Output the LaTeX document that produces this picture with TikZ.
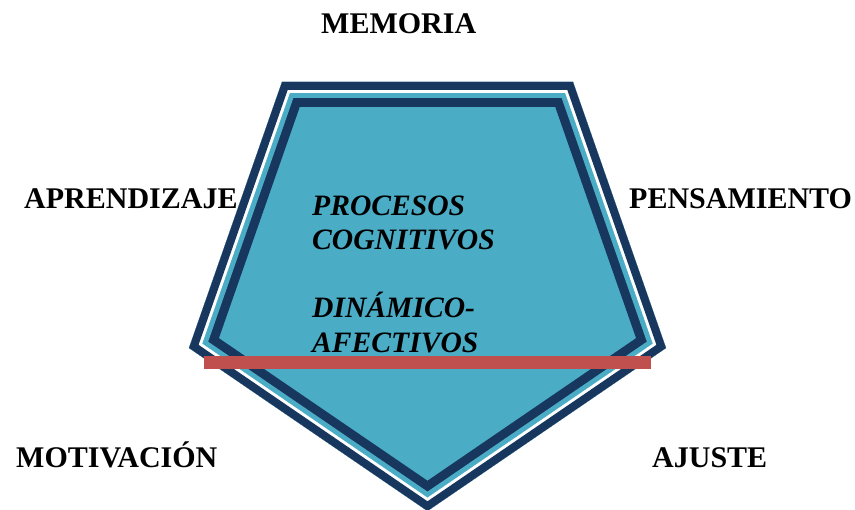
\documentclass[tikz,border=0pt]{standalone}
\usepackage{fontspec}
\setmainfont{Liberation Serif}
\usepackage{tikz}
\usetikzlibrary{calc, positioning}
\definecolor{navy}{HTML}{17375E}
\definecolor{aqua}{HTML}{4BACC6}
\definecolor{barred}{HTML}{C0504D}

\tikzset{
    factor/.style={anchor=base west, inner sep=0pt, font=\fontsize{30}{34}\selectfont\bfseries},
    proceso/.style={anchor=base west, inner sep=0pt, font=\fontsize{29.6}{34}\selectfont\bfseries\itshape}
}

\begin{document}
\begin{tikzpicture}[x=1pt,y=-1pt]
    \useasboundingbox (0,0) rectangle (855,510);

    % pentagon corners
    \coordinate (p_a) at (282,82);
    \coordinate (p_b) at (573,82);
    \coordinate (p_c) at (666,348);
    \coordinate (p_d) at (427.5,511);
    \coordinate (p_e) at (189,348);

    \begin{scope}
      \clip (p_a) -- (p_b) -- (p_c) -- (p_d) -- (p_e) -- cycle;
      \fill[aqua] (p_a) -- (p_b) -- (p_c) -- (p_d) -- (p_e) -- cycle;
      \draw[navy, line width=50pt] (p_a) -- (p_b) -- (p_c) -- (p_d) -- (p_e) -- cycle;
      \draw[aqua, line width=32pt] (p_a) -- (p_b) -- (p_c) -- (p_d) -- (p_e) -- cycle;
      \draw[white, line width=22pt] (p_a) -- (p_b) -- (p_c) -- (p_d) -- (p_e) -- cycle;
      \draw[navy, line width=16pt] (p_a) -- (p_b) -- (p_c) -- (p_d) -- (p_e) -- cycle;
    \end{scope}

    \fill[barred] (204,356) rectangle (651,369);

    \node[proceso] (procesos) at (312,216) {PROCESOS};
    \node[proceso] (cognitivos) at (312,250) {COGNITIVOS};
    \node[proceso] (dinamico) at (312,318) {DINÁMICO-};
    \node[proceso] (afectivos) at (312,353) {AFECTIVOS};

    \node[factor] (memoria) at (321,34) {MEMORIA};
    \node[factor] (aprendizaje) at (24,209) {APRENDIZAJE};
    \node[factor] (pensamiento) at (629,209) {PENSAMIENTO};
    \node[factor] (motivacion) at (16,468) {MOTIVACIÓN};
    \node[factor] (ajuste) at (652,468) {AJUSTE};
\end{tikzpicture}
\end{document}
